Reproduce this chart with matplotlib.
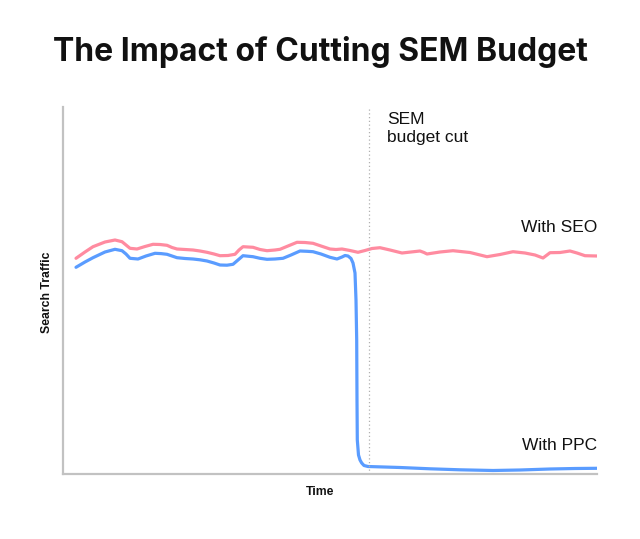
import matplotlib
matplotlib.use("Agg")
import matplotlib.pyplot as plt

# ---- data (time in arbitrary units, traffic in arbitrary units) ----
seo_time = [13, 22, 30, 42, 52, 59, 63, 67, 74, 82,
            90, 97, 104, 109, 114, 122, 130, 137, 144, 151,
            157, 165, 172, 176, 180, 190, 197, 204, 212, 217,
            225, 234, 242, 250, 258, 267, 273, 279, 287, 295,
            302, 309, 317, 327, 339, 348, 357, 361, 364, 377,
            390, 407, 424, 437, 450, 462, 472, 480, 484, 487,
            497, 507, 514, 522, 534]
seo_traffic = [215.7, 222, 227.3, 232, 234, 232.3, 229, 225.7, 225, 227.5,
               229.7, 229.5, 228.7, 226.5, 225, 224.5, 224, 223, 221.7, 220,
               218.3, 218.5, 219.7, 224, 227.3, 226.7, 224.5, 223.3, 224, 224.7,
               228, 231.7, 231.5, 230.7, 228, 225, 224.5, 225, 223.5, 221.7,
               223.5, 225.5, 226.3, 224, 221, 222, 223, 221.5, 220, 222,
               223.3, 221.5, 217.3, 219.5, 222.3, 221, 219, 216, 219, 221.3,
               221.5, 223, 221, 218.3, 218]

ppc_time = [13, 22, 30, 42, 52, 59, 63, 67, 75, 83,
            92, 98, 104, 109, 114, 122, 130, 137, 144, 151,
            157, 164, 170, 175, 180, 190, 197, 204, 212, 220,
            228, 237, 244, 250, 258, 267, 274, 279, 282, 285,
            288, 290, 292, 293, 293.7, 294, 294.3, 295.5, 297, 298.7,
            301, 305, 337, 367, 397, 430, 457, 487, 512, 534]
ppc_traffic = [206.7, 212, 216.3, 222, 224.7, 223.3, 220, 215.7, 215, 218,
               220.7, 220.4, 219.7, 218, 216.3, 215.5, 215, 214.2, 213, 211,
               209, 208.8, 209.7, 214, 218.3, 217.3, 215.7, 214.7, 215, 215.7,
               219, 223, 222.7, 222.3, 220, 216.7, 215, 217, 218.5, 218,
               215.5, 211, 201, 174, 134, 74, 34, 19, 14, 11,
               8.5, 7.5, 6.5, 5.2, 4.2, 3.5, 4, 5, 5.5, 5.7]

cut_time = 306
title = "The Impact of Cutting SEM Budget"

fig = plt.figure(figsize=(6.4, 5.39), dpi=100)
ax = fig.add_axes([63/640, 65/539, 534/640, 367/539])
ax.set_xlim(0, 534)
ax.set_ylim(0, 367)

ax.plot(seo_time, seo_traffic, color="#ff8ba0", lw=2.3, solid_capstyle="round", solid_joinstyle="round")
ax.plot(ppc_time, ppc_traffic, color="#5a9cff", lw=2.3, solid_capstyle="round", solid_joinstyle="round")
ax.axvline(cut_time, color="#b0b0b0", lw=0.9, ls=(0, (1, 2)))

for s in ["top", "right"]:
    ax.spines[s].set_visible(False)
for s in ["left", "bottom"]:
    ax.spines[s].set_color("#c2c2c2")
    ax.spines[s].set_linewidth(1.6)
ax.set_xticks([])
ax.set_yticks([])

fig.text(0.5, 1 - 52/539, title, ha="center", va="center",
         fontsize=23, fontweight="bold", family="Inter", color="#111111")

ax.text(324, 332, "SEM\nbudget cut", ha="left", va="baseline", multialignment="left",
        fontsize=12.5, family="Liberation Sans", color="#111111", linespacing=1.25)
ax.text(534, 242, "With SEO", ha="right", va="baseline",
        fontsize=12.5, family="Liberation Sans", color="#111111")
ax.text(534, 24, "With PPC", ha="right", va="baseline",
        fontsize=12.5, family="Liberation Sans", color="#111111")

fig.text(47/640, 1 - 292/539, "Search Traffic", rotation=90, ha="center", va="center",
         fontsize=8.8, fontweight="bold", family="Liberation Sans", color="#111111")
fig.text(320/640, 1 - 492/539, "Time", ha="center", va="center",
         fontsize=8.8, fontweight="bold", family="Liberation Sans", color="#111111")

fig.savefig("out.png", dpi=100)
